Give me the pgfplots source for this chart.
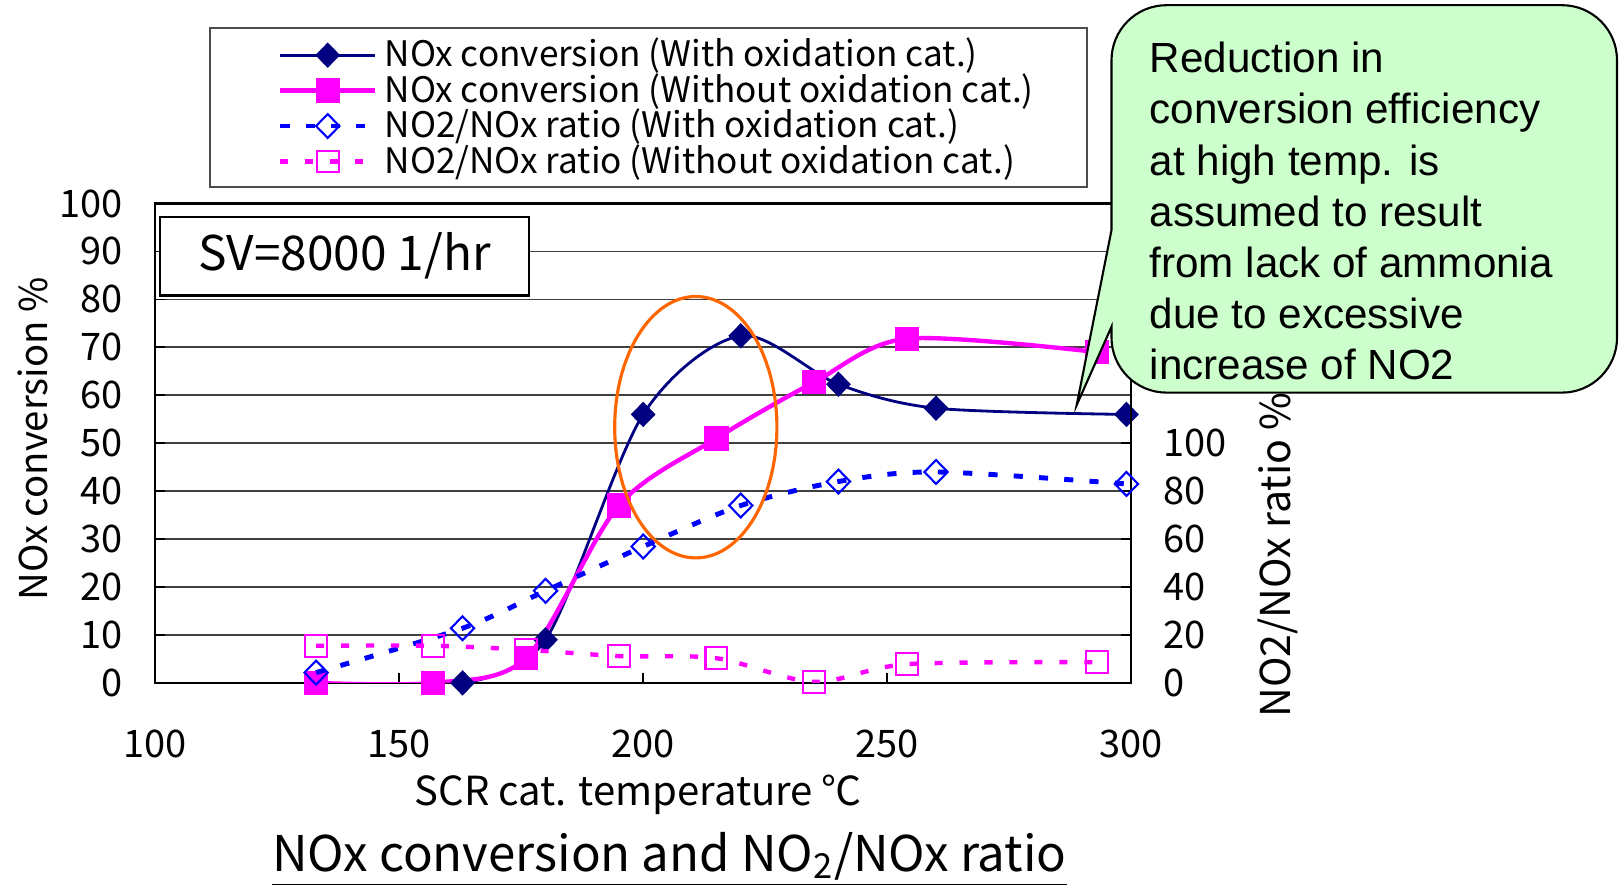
\documentclass[border=0pt]{standalone}
\usepackage{pgfplots}
\pgfplotsset{compat=1.18}
\usepackage{fontspec}
\setmainfont{Noto Sans CJK JP}
\newfontfamily\arialf{Liberation Sans}
\definecolor{navyc}{RGB}{0,0,128}
\definecolor{magc}{RGB}{255,0,255}
\definecolor{bluec}{RGB}{0,0,255}
\definecolor{orangec}{RGB}{255,102,0}
\definecolor{greenc}{RGB}{204,255,204}
\pgfplotsset{
 s1/.style={navyc, line width=0.8pt, smooth, mark=diamond*, mark size=3.4pt, mark options={solid, fill=navyc, line width=0.3pt, xscale=1.3}},
 s2/.style={magc, line width=1.25pt, smooth, mark=square*, mark size=3.3pt, mark options={solid, fill=magc, line width=0.3pt}},
 s3/.style={bluec, line width=1.4pt, dash pattern=on 2.6pt off 4.6pt, smooth, mark=diamond, mark size=3.4pt, mark options={solid, line width=0.6pt, xscale=1.3}},
 s4/.style={magc, line width=1.25pt, dash pattern=on 2.3pt off 4.8pt, smooth, mark=square, mark size=3.1pt, mark options={solid, line width=0.6pt}},
 common/.style={at={(1.55cm,2.031cm)}, anchor=south west, scale only axis, width=9.763cm, height=4.794cm,
   xmin=100, xmax=300,
   tick label style={font=\fontsize{10.8}{12}\selectfont},
   /pgf/number format/assume math mode=true,
   tick align=inside, major tick length=0.1cm,
   tick style={black, line width=0.5pt}},
}
\begin{document}
\begin{tikzpicture}
\useasboundingbox (0,0) rectangle (16.2,8.86);
\begin{axis}[common,
  ymin=0, ymax=100,
  xtick={100,150,...,300}, ytick={0,10,...,100},
  xtick pos=bottom, ytick pos=left,
  ymajorgrids, grid style={black!75, line width=0.5pt},
  axis line style={black, line width=0.6pt},
  xticklabel style={yshift=-0.35cm},
  yticklabel style={xshift=-0.2cm},
  ylabel={NOx conversion \%},
  ylabel style={at={(rel axis cs:-0.125,0.509)}, anchor=center, font=\fontsize{10.9}{12}\selectfont},
  xlabel={SCR cat. temperature ℃},
  xlabel style={at={(rel axis cs:0.495,-0.233)}, anchor=center, font=\fontsize{11.4}{13}\selectfont},
  legend style={at={(rel axis cs:0.125,1.361)}, anchor=north west, draw=none, fill=none,
    cells={anchor=west}, font=\fontsize{10}{11}\selectfont, row sep=-3.6pt, inner sep=0pt},
  legend image code/.code={\draw[mark repeat=2,mark phase=2] plot coordinates {(0cm,0cm) (0.475cm,0cm) (0.95cm,0cm)};},
]
\addplot[s1] coordinates {(163,0) (180,9) (200,56) (220,72.4) (240,62.3) (260,57.3) (299,56)};
\addlegendentry{NOx conversion (With oxidation cat.)}
\addplot[s2] coordinates {(133,0) (157,0) (176,5.2) (195,37) (215,51) (235,62.7) (254,71.8) (293,69)};
\addlegendentry{NOx conversion (Without oxidation cat.)}
\addlegendimage{s3}
\addlegendentry{NO2/NOx ratio (With oxidation cat.)}
\addlegendimage{s4}
\addlegendentry{NO2/NOx ratio (Without oxidation cat.)}
\end{axis}
\begin{axis}[common,
  ymin=0, ymax=200,
  axis x line=none, axis y line*=right,
  axis line style={black, line width=0.6pt},
  ytick={0,20,...,100}, ytick pos=right,
  yticklabel style={xshift=0.2cm},
  ylabel={NO2/NOx ratio \%},
  ylabel style={at={(rel axis cs:1.150,0.267)}, anchor=center, font=\fontsize{11.7}{13}\selectfont},
]
\addplot[s3] coordinates {(133,4.3) (163,22.8) (180,38.4) (200,56.9) (220,74) (240,84) (260,88) (299,83)};
\addplot[s4] coordinates {(133,15.5) (157,15.5) (176,13.8) (195,11.2) (215,10.3) (235,0.4) (254,7.8) (293,8.6)};
\end{axis}
% ellipse
\draw[orangec, line width=0.9pt] (6.958,4.588) ellipse [x radius=0.811cm, y radius=1.307cm];
% SV box
\draw[black, line width=0.8pt, fill=white] (1.60,5.905) rectangle (5.29,6.69);
\node[font=\fontsize{13.6}{15}\selectfont] at (3.445,6.30) {SV=8000 1/hr};
% legend frame
\draw[black!70, line width=0.6pt] (2.097,6.99) rectangle (10.869,8.581);
% callout
\filldraw[fill=greenc, draw=black, line width=0.6pt] (11.115,6.56) [rounded corners=0.55cm] -- (11.115,8.808) -- (16.17,8.808) -- (16.17,4.934) -- (11.115,4.934) [sharp corners] -- (11.115,5.593) -- (10.767,4.81) -- cycle;
\begin{scope}[every node/.style={anchor=base west, inner sep=0pt, font=\arialf\fontsize{12}{14}\selectfont}]
\node at (11.49,8.132) {Reduction in};
\node at (11.49,7.620) {conversion efficiency};
\node at (11.49,7.108) {at high temp. is};
\node at (11.49,6.596) {assumed to result};
\node at (11.49,6.084) {from lack of ammonia};
\node at (11.49,5.572) {due to excessive};
\node at (11.49,5.060) {increase of NO2};
\end{scope}
% title
\node[anchor=base, font=\fontsize{14}{16}\selectfont] at (6.695,0.15) {\underline{NOx conversion and NO\textsubscript{2}/NOx ratio}};
\end{tikzpicture}
\end{document}
